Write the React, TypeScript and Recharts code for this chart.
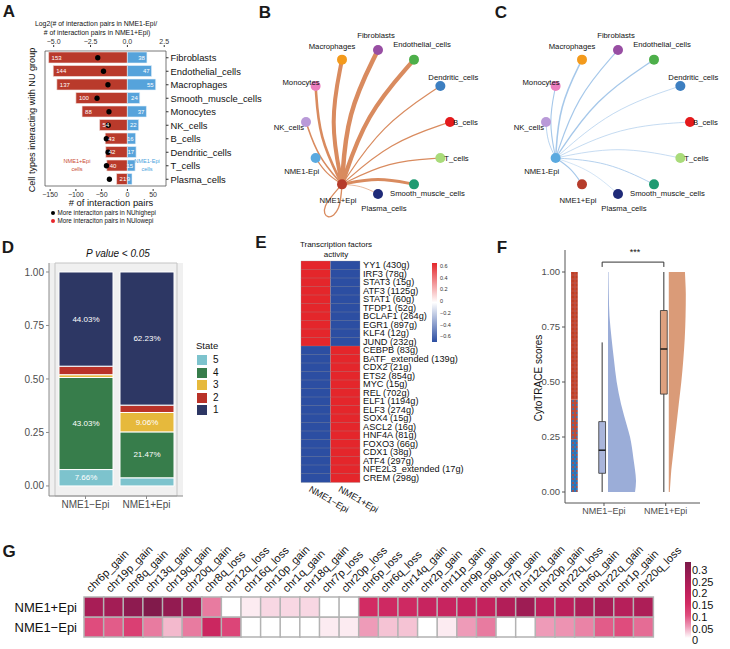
import React from "react";
import {
  Area,
  Bar,
  BarChart,
  CartesianGrid,
  Cell,
  ComposedChart,
  LabelList,
  ReferenceArea,
  ReferenceLine,
  Scatter,
  ScatterChart,
  XAxis,
  YAxis,
  ZAxis,
} from "recharts";

const FONT = "'Liberation Sans', Arial, Helvetica, sans-serif";

// ---------- A: interaction pairs per cell type
const cellTypes = [
  "Fibroblasts",
  "Endothelial_cells",
  "Macrophages",
  "Smooth_muscle_cells",
  "Monocytes",
  "NK_cells",
  "B_cells",
  "Dendritic_cells",
  "T_cells",
  "Plasma_cells",
];
const pairsNme1Plus = [153, 144, 137, 100, 88, 54, 43, 42, 40, 21];
const pairsNme1Minus = [38, 47, 55, 24, 37, 22, 16, 17, 15, 9];
const log2Ratio = [-2.01, -1.62, -1.32, -2.06, -1.25, -1.3, -1.43, -1.31, -1.42, -1.22];

// ---------- B / C: circle networks
const netNodes = [
  "B_cells",
  "Dendritic_cells",
  "Endothelial_cells",
  "Fibroblasts",
  "Macrophages",
  "Monocytes",
  "NK_cells",
  "NME1-Epi",
  "NME1+Epi",
  "Plasma_cells",
  "Smooth_muscle_cells",
  "T_cells",
];
const crossPairsB = 40; // NME1+Epi -> NME1-Epi
const selfPairsB = 45; // NME1+Epi -> NME1+Epi
const crossPairsC = 40; // NME1-Epi -> NME1+Epi

// ---------- D: state composition (%)
const stateNames = ["5", "4", "3", "2", "1"];
const stateNme1Minus = [7.66, 43.03, 1.3, 3.98, 44.03];
const stateNme1Plus = [3.8, 21.47, 9.06, 3.44, 62.23];
const stateGroups = ["NME1−Epi", "NME1+Epi"];

// ---------- E: TF activity
const tfNames = [
  "YY1 (430g)",
  "IRF3 (78g)",
  "STAT3 (15g)",
  "ATF3 (1125g)",
  "STAT1 (60g)",
  "TFDP1 (52g)",
  "BCLAF1 (264g)",
  "EGR1 (897g)",
  "KLF4 (12g)",
  "JUND (232g)",
  "CEBPB (83g)",
  "BATF_extended (139g)",
  "CDX2 (21g)",
  "ETS2 (854g)",
  "MYC (15g)",
  "REL (702g)",
  "ELF1 (1194g)",
  "ELF3 (274g)",
  "SOX4 (15g)",
  "ASCL2 (16g)",
  "HNF4A (81g)",
  "FOXO3 (66g)",
  "CDX1 (38g)",
  "ATF4 (297g)",
  "NFE2L3_extended (17g)",
  "CREM (298g)",
];
const tfNme1Minus = [
  0.68, 0.68, 0.68, 0.68, 0.68, 0.68, 0.68, 0.68, 0.68, 0.68, -0.68, -0.68, -0.68, -0.68, -0.68, -0.68, -0.68,
  -0.68, -0.68, -0.68, -0.68, -0.68, -0.68, -0.68, -0.68, -0.68,
];
const tfNme1Plus = [
  -0.68, -0.68, -0.68, -0.68, -0.68, -0.68, -0.68, -0.68, -0.68, -0.68, 0.68, 0.68, 0.68, 0.68, 0.68, 0.68, 0.68,
  0.68, 0.68, 0.68, 0.68, 0.68, 0.68, 0.68, 0.68, 0.68,
];

// ---------- F: CytoTRACE raincloud
const violinY = [0, 0.05, 0.1, 0.15, 0.2, 0.25, 0.3, 0.4, 0.5, 0.6, 0.7, 0.8, 0.9, 0.95, 1.0];
const violinNme1Minus = [0.438, 0.454, 0.438, 0.413, 0.389, 0.357, 0.308, 0.211, 0.141, 0.097, 0.057, 0.024, 0.013, 0.01, 0.008];
const violinNme1Plus = [0.016, 0.028, 0.041, 0.061, 0.081, 0.101, 0.122, 0.162, 0.203, 0.235, 0.259, 0.272, 0.276, 0.27, 0.262];
const boxGroups = ["NME1−Epi", "NME1+Epi"];
const boxLow = [0, 0];
const boxQ1 = [0.085, 0.445];
const boxMedian = [0.19, 0.65];
const boxQ3 = [0.32, 0.825];
const boxHigh = [0.68, 1.0];

// ---------- G: CNV events
const cnvEvents = [
  "chr6p_gain", "chr19p_gain", "chr8q_gain", "chr13q_gain", "chr19q_gain", "chr20q_gain", "chr8q_loss",
  "chr12q_loss", "chr16q_loss", "chr10p_gain", "chr1q_gain", "chr18q_gain", "chr7p_loss", "chr20p_loss",
  "chr6p_loss", "chr6q_loss", "chr14q_gain", "chr2p_gain", "chr11p_gain", "chr9p_gain", "chr9q_gain",
  "chr7p_gain", "chr12q_gain", "chr20p_gain", "chr22q_loss", "chr6q_gain", "chr22q_gain", "chr1p_gain",
  "chr20q_loss",
];
const cnvNme1Plus = [
  0.25, 0.26, 0.3, 0.32, 0.29, 0.27, 0.07, 0, 0.01, 0.02, 0.02, 0.02, 0, 0, 0.15, 0.16, 0.16, 0.18, 0.18,
  0.19, 0.19, 0.23, 0.27, 0.21, 0.21, 0.24, 0.25, 0.22, 0.24,
];
const cnvNme1Minus = [
  0.1, 0.09, 0.12, 0.07, 0.035, 0.07, 0.17, 0.11, 0, 0, 0, 0, 0.01, 0.01, 0.05, 0.03, 0.03, 0, 0.01, 0.05,
  0.07, 0, 0, 0.05, 0.055, 0.065, 0.09, 0.1, 0.08,
];

// ---------- styles
const RED_A = "#b93a2b";
const BLUE_A = "#56a3db";
const NODE_COLORS: Record<string, string> = {
  B_cells: "#e41a1c",
  Dendritic_cells: "#3d7fc1",
  Endothelial_cells: "#4daf4a",
  Fibroblasts: "#984ea3",
  Macrophages: "#f39a1c",
  Monocytes: "#ec7fbf",
  NK_cells: "#b99ad8",
  "NME1-Epi": "#5aa9df",
  "NME1+Epi": "#b63c2b",
  Plasma_cells: "#1f2a78",
  Smooth_muscle_cells: "#1f9b72",
  T_cells: "#a9db7a",
};
const NODE_LABEL: Record<string, { dx: number; dy: number; a: "start" | "middle" | "end" }> = {
  B_cells: { dx: 3, dy: 0, a: "start" },
  Dendritic_cells: { dx: -12, dy: -9, a: "start" },
  Endothelial_cells: { dx: 8, dy: -15, a: "middle" },
  Fibroblasts: { dx: -2, dy: -15, a: "middle" },
  Macrophages: { dx: -10, dy: -13, a: "middle" },
  Monocytes: { dx: 4, dy: -4, a: "end" },
  NK_cells: { dx: -2, dy: 5, a: "end" },
  "NME1-Epi": { dx: -14, dy: 13, a: "middle" },
  "NME1+Epi": { dx: -4, dy: 16, a: "middle" },
  Plasma_cells: { dx: 6, dy: 14, a: "middle" },
  Smooth_muscle_cells: { dx: -24, dy: 9, a: "start" },
  T_cells: { dx: 4, dy: 0, a: "start" },
};
const STATE_COLORS = ["#7dc3cd", "#377d4b", "#e6b93c", "#b93228", "#2d3764"];
const VIOLIN_BASE = [1.065, 2.05];
const BOX_SHIFT = -0.03;
const BOX_HALF = 0.055;

function hexRgb(h: string) {
  const n = parseInt(h.slice(1), 16);
  return [(n >> 16) & 255, (n >> 8) & 255, n & 255];
}
function ramp(stops: [number, string][], v: number) {
  if (v <= stops[0][0]) return stops[0][1];
  for (let i = 1; i < stops.length; i++) {
    if (v <= stops[i][0]) {
      const [v0, c0] = stops[i - 1];
      const [v1, c1] = stops[i];
      const t = (v - v0) / (v1 - v0);
      const a = hexRgb(c0);
      const b = hexRgb(c1);
      return `rgb(${a.map((x, k) => Math.round(x + (b[k] - x) * t)).join(",")})`;
    }
  }
  return stops[stops.length - 1][1];
}
const TF_STOPS: [number, string][] = [
  [-0.6, "#2c4ea2"],
  [0, "#ffffff"],
  [0.6, "#e4262b"],
];
const CNV_STOPS: [number, string][] = [
  [0, "#ffffff"],
  [0.05, "#ee9bb8"],
  [0.1, "#df4c7d"],
  [0.15, "#d22b63"],
  [0.2, "#c0205c"],
  [0.25, "#a81d56"],
  [0.3, "#8e1b50"],
  [0.33, "#7a1a48"],
];

function Txt({ x, y, size, children, anchor = "middle", color = "#111", weight = 400, italic = false, rotate = 0 }: any) {
  const tx = anchor === "middle" ? "-50%" : anchor === "end" ? "-100%" : "0%";
  return (
    <div
      style={{
        position: "absolute",
        left: x,
        top: y,
        transform: `translate(${tx}, -50%) rotate(${rotate}deg)`,
        fontSize: size,
        color,
        fontWeight: weight,
        fontStyle: italic ? "italic" : "normal",
        whiteSpace: "nowrap",
        lineHeight: 1,
      }}
    >
      {children}
    </div>
  );
}

// plain, non-wrapping tick text
const plainTick = (size: number, anchor: "start" | "end", fmt?: (v: any) => string) => (p: any) => (
  <text x={p.x} y={p.y} dy="0.35em" textAnchor={anchor} fontSize={size} fill="#111">
    {fmt ? fmt(p.payload.value) : p.payload.value}
  </text>
);

// ---------- Panel A
const aRows = cellTypes.map((c, i) => ({
  cell: c,
  plus: -pairsNme1Plus[i],
  minus: pairsNme1Minus[i],
  ratio: log2Ratio[i],
}));

const barNumber = (side: "left" | "right") => (p: any) => {
  const x = Number(p.x);
  const w = Number(p.width);
  const y = Number(p.y);
  const h = Number(p.height);
  const lo = Math.min(x, x + w);
  const hi = Math.max(x, x + w);
  return (
    <text
      x={side === "left" ? lo + 3 : hi - 2}
      y={y + h / 2}
      textAnchor={side === "left" ? "start" : "end"}
      dominantBaseline="central"
      fontSize={6}
      fill="#fff"
    >
      {Math.abs(Number(p.value))}
    </text>
  );
};

function PanelA() {
  const minus = (v: number) => String(v).replace("-", "−");
  return (
    <div style={{ position: "absolute", left: 0, top: 0 }}>
      <ComposedChart
        width={262}
        height={240}
        data={aRows}
        layout="vertical"
        stackOffset="sign"
        margin={{ top: 33, right: 2, bottom: 37, left: 45 }}
      >
        <XAxis
          xAxisId="bottom"
          type="number"
          orientation="bottom"
          domain={[-160, 75]}
          ticks={[-150, -100, -50, 0, 50]}
          tickFormatter={minus}
          height={14}
          tickSize={2}
          tickMargin={1}
          axisLine={false}
          stroke="#333"
          tick={{ fontSize: 7, fill: "#333" }}
          allowDataOverflow
        />
        <XAxis
          xAxisId="top"
          type="number"
          orientation="top"
          dataKey="ratio"
          domain={[-5.59, 2.62]}
          ticks={[-5, -2.5, 0, 2.5]}
          tickFormatter={(v: number) => v.toFixed(1).replace("-", "−")}
          height={14}
          tickSize={2}
          tickMargin={1}
          axisLine={false}
          stroke="#333"
          tick={{ fontSize: 7, fill: "#333" }}
          allowDataOverflow
        />
        <YAxis
          type="category"
          dataKey="cell"
          orientation="right"
          width={94}
          axisLine={false}
          tickSize={2.5}
          tickMargin={2}
          stroke="#333"
          interval={0}
          padding={{ top: 4, bottom: 3 }}
          tick={plainTick(9.4, "start")}
        />
        <ZAxis range={[22, 22]} />
        <ReferenceArea xAxisId="bottom" x1={-160} x2={75} fill="none" stroke="#555" strokeWidth={0.8} />
        <Bar xAxisId="bottom" dataKey="plus" stackId="a" fill={RED_A} stroke="#f4e6e2" strokeWidth={0.6} barSize={11} isAnimationActive={false}>
          <LabelList dataKey="plus" content={barNumber("left")} />
        </Bar>
        <Bar xAxisId="bottom" dataKey="minus" stackId="a" fill={BLUE_A} stroke="#e6f1fa" strokeWidth={0.6} barSize={11} isAnimationActive={false}>
          <LabelList dataKey="minus" content={barNumber("right")} />
        </Bar>
        <Scatter xAxisId="top" dataKey="ratio" fill="#000" isAnimationActive={false} />
      </ComposedChart>
    </div>
  );
}

// ---------- Panels B / C
const R_NET = 110 / 72;
function nodePos(name: string) {
  const i = netNodes.indexOf(name);
  const t = (i * Math.PI) / 6;
  return { x: Math.cos(t), y: Math.sin(t) };
}
function edgePoints(from: string, to: string, bend: number) {
  const a = nodePos(from);
  const b = nodePos(to);
  const dx = b.x - a.x;
  const dy = b.y - a.y;
  return [a, { x: (a.x + b.x) / 2 - dy * bend, y: (a.y + b.y) / 2 + dx * bend }, b];
}
function loopPoints(from: string) {
  const a = nodePos(from);
  const offs = [
    [0, 0],
    [-0.05, -0.33],
    [-0.19, -0.45],
    [-0.23, -0.3],
    [0, 0],
  ];
  return offs.map(([ox, oy]) => ({ x: a.x + ox, y: a.y + oy }));
}
const noPoint = () => <g />;
const NodeShape = (p: any) => {
  const name = p.payload.name as string;
  const st = NODE_LABEL[name];
  return (
    <g>
      <circle cx={p.cx} cy={p.cy} r={5} fill={NODE_COLORS[name]} />
      <text x={p.cx + st.dx} y={p.cy + st.dy} textAnchor={st.a} dominantBaseline="central" fontSize={7.7} fill="#111">
        {name}
      </text>
    </g>
  );
};

function Network({ left, hub, other, counts, crossCount, selfCount, color, widthOf }: any) {
  const nodes = netNodes.map((n) => ({ name: n, ...nodePos(n) }));
  const edges = cellTypes.map((c, i) => ({ to: c, n: counts[i] }));
  edges.push({ to: other, n: crossCount });
  return (
    <div style={{ position: "absolute", left, top: 12 }}>
      <ScatterChart width={220} height={220} margin={{ top: 0, right: 0, bottom: 0, left: 0 }}>
        <XAxis type="number" dataKey="x" domain={[-R_NET, R_NET]} hide allowDataOverflow />
        <YAxis type="number" dataKey="y" domain={[-R_NET, R_NET]} hide allowDataOverflow />
        {selfCount ? (
          <Scatter
            data={loopPoints(hub)}
            line={{ stroke: color, strokeWidth: widthOf(selfCount) }}
            lineJointType="natural"
            shape={noPoint}
            isAnimationActive={false}
          />
        ) : null}
        {edges.map((e) => (
          <Scatter
            key={e.to}
            data={edgePoints(hub, e.to, 0.1)}
            line={{ stroke: color, strokeWidth: widthOf(e.n), strokeLinecap: "round" }}
            lineJointType="basis"
            shape={noPoint}
            isAnimationActive={false}
          />
        ))}
        <Scatter data={nodes} shape={NodeShape} isAnimationActive={false} />
      </ScatterChart>
    </div>
  );
}

// ---------- Panel D
const dRows = stateGroups.map((g, gi) => {
  const vals = gi === 0 ? stateNme1Minus : stateNme1Plus;
  const row: any = { group: g };
  stateNames.forEach((s, i) => (row["s" + s] = vals[i]));
  return row;
});
const pctLabel = (p: any) => {
  const v = Number(p.value);
  if (v < 5) return null;
  return (
    <text x={p.x + p.width / 2} y={p.y + p.height / 2} textAnchor="middle" dominantBaseline="central" fontSize={8} fill="#fff">
      {v.toFixed(2)}%
    </text>
  );
};

function PanelD() {
  return (
    <div style={{ position: "absolute", left: 0, top: 240 }}>
      <BarChart width={262} height={285} data={dRows} margin={{ top: 23, right: 79, bottom: 9, left: 9 }}>
        <CartesianGrid fill="#f0f0f0" horizontal={false} vertical={false} />
        <XAxis
          dataKey="group"
          height={20}
          padding={{ left: 6, right: 6 }}
          tickSize={3}
          stroke="#8a8a8a"
          tick={{ fontSize: 10, fill: "#4d4d4d" }}
        />
        <YAxis
          type="number"
          domain={[-4.7, 104.2]}
          ticks={[0, 25, 50, 75, 100]}
          tickFormatter={(v: number) => (v / 100).toFixed(2)}
          width={40}
          tickSize={3}
          stroke="#8a8a8a"
          tick={{ fontSize: 10, fill: "#4d4d4d" }}
          allowDataOverflow
        />
        <ReferenceArea y1={-4.7} y2={104.2} fill="none" stroke="#c4c4c4" />
        {stateNames.map((s, i) => (
          <Bar key={s} dataKey={"s" + s} stackId="st" fill={STATE_COLORS[i]} stroke="#fff" strokeWidth={1} barSize={54} isAnimationActive={false}>
            <LabelList dataKey={"s" + s} content={pctLabel} />
          </Bar>
        ))}
      </BarChart>
    </div>
  );
}

// ---------- Panel E
const eRows = tfNames.map((t, i) => ({ tf: t, minus: tfNme1Minus[i], plus: tfNme1Plus[i], u1: 1, u2: 1 }));
const TfGroupTick = (p: any) => (
  <text x={p.x - 4} y={p.y} transform={`rotate(30 ${p.x - 4} ${p.y})`} dy="0.75em" fontSize={9.2} fill="#111">
    {p.payload.value < 1 ? "NME1−Epi" : "NME1+Epi"}
  </text>
);

function PanelE() {
  return (
    <div style={{ position: "absolute", left: 290, top: 250 }}>
      <BarChart width={200} height={275} data={eRows} layout="vertical" barCategoryGap={0} margin={{ top: 11, right: 5, bottom: 0, left: 11 }}>
        <XAxis type="number" domain={[0, 2]} ticks={[0.5, 1.5]} height={43} axisLine={false} tickLine={false} tickSize={0} tickMargin={3} tick={<TfGroupTick />} />
        <YAxis
          type="category"
          dataKey="tf"
          orientation="right"
          width={125}
          axisLine={false}
          tickLine={false}
          tickSize={0}
          tickMargin={3}
          interval={0}
          tick={plainTick(9.2, "start")}
        />
        <Bar dataKey="u1" stackId="h" stroke="#9a9a9a" strokeWidth={0.3} isAnimationActive={false}>
          {eRows.map((r) => (
            <Cell key={r.tf} fill={ramp(TF_STOPS, r.minus)} />
          ))}
        </Bar>
        <Bar dataKey="u2" stackId="h" stroke="#9a9a9a" strokeWidth={0.3} isAnimationActive={false}>
          {eRows.map((r) => (
            <Cell key={r.tf} fill={ramp(TF_STOPS, r.plus)} />
          ))}
        </Bar>
      </BarChart>
    </div>
  );
}

// ---------- Panel F
const violinRows = violinY.map((y, i) => ({ y, wMinus: violinNme1Minus[i], wPlus: violinNme1Plus[i] }));

function PanelF() {
  const boxes = boxGroups.map((g, i) => {
    const cx = i + 1 + BOX_SHIFT;
    const stroke = "#333";
    return (
      <React.Fragment key={g}>
        <ReferenceLine segment={[{ x: cx, y: boxLow[i] }, { x: cx, y: boxQ1[i] }]} stroke={stroke} strokeWidth={1} />
        <ReferenceLine segment={[{ x: cx, y: boxQ3[i] }, { x: cx, y: boxHigh[i] }]} stroke={stroke} strokeWidth={1} />
        <ReferenceArea
          x1={cx - BOX_HALF}
          x2={cx + BOX_HALF}
          y1={boxQ1[i]}
          y2={boxQ3[i]}
          fill={i === 0 ? "#a9b5db" : "#dea17f"}
          fillOpacity={1}
          stroke={stroke}
          strokeWidth={0.8}
        />
        <ReferenceLine segment={[{ x: cx - BOX_HALF, y: boxMedian[i] }, { x: cx + BOX_HALF, y: boxMedian[i] }]} stroke="#111" strokeWidth={1.4} />
      </React.Fragment>
    );
  });
  const b1 = 1 + BOX_SHIFT;
  const b2 = 2 + BOX_SHIFT;
  return (
    <div style={{ position: "absolute", left: 500, top: 240 }}>
      <ComposedChart width={230} height={290} data={violinRows} layout="vertical" margin={{ top: 10, right: 30, bottom: 7, left: 25 }}>
        <defs>
          <pattern id="jitRed" width="4" height="4" patternUnits="userSpaceOnUse">
            <rect width="4" height="4" fill="#c7482f" />
            <circle cx="1" cy="1" r="0.9" fill="#b23a25" />
            <circle cx="3" cy="3" r="0.5" fill="#6c7fb8" />
          </pattern>
          <pattern id="jitMix" width="4" height="4" patternUnits="userSpaceOnUse">
            <rect width="4" height="4" fill="#b94c3a" />
            <circle cx="1" cy="1" r="1" fill="#2f76b8" />
            <circle cx="3" cy="3" r="0.8" fill="#c4452e" />
          </pattern>
          <pattern id="jitBlue" width="4" height="4" patternUnits="userSpaceOnUse">
            <rect width="4" height="4" fill="#2f78bb" />
            <circle cx="1" cy="3" r="0.9" fill="#c4452e" />
            <circle cx="3" cy="1" r="0.8" fill="#2a6aa8" />
          </pattern>
        </defs>
        <XAxis
          type="number"
          domain={[0.368, 2.556]}
          ticks={[1, 2]}
          tickFormatter={(v: number) => boxGroups[v - 1]}
          height={20}
          tickSize={3}
          stroke="#555"
          tick={{ fontSize: 9, fill: "#4d4d4d" }}
          allowDataOverflow
        />
        <YAxis
          type="number"
          dataKey="y"
          reversed
          domain={[-0.05, 1.1]}
          ticks={[0, 0.25, 0.5, 0.75, 1]}
          tickFormatter={(v: number) => v.toFixed(2)}
          width={40}
          tickSize={3}
          stroke="#555"
          tick={{ fontSize: 9.5, fill: "#4d4d4d" }}
          allowDataOverflow
        />
        <ReferenceArea x1={0.465} x2={0.575} y1={0.42} y2={1} fill="url(#jitRed)" fillOpacity={1} />
        <ReferenceArea x1={0.465} x2={0.575} y1={0.24} y2={0.42} fill="url(#jitMix)" fillOpacity={1} />
        <ReferenceArea x1={0.465} x2={0.575} y1={0} y2={0.24} fill="url(#jitBlue)" fillOpacity={1} />
        <Area
          dataKey={(d: any) => [VIOLIN_BASE[0], VIOLIN_BASE[0] + d.wMinus]}
          type="monotone"
          stroke="none"
          fill="#9badd8"
          fillOpacity={1}
          isAnimationActive={false}
        />
        <Area
          dataKey={(d: any) => [VIOLIN_BASE[1], VIOLIN_BASE[1] + d.wPlus]}
          type="monotone"
          stroke="none"
          fill="#da9b78"
          fillOpacity={1}
          isAnimationActive={false}
        />
        {boxes}
        <ReferenceLine segment={[{ x: b1, y: 1.023 }, { x: b1, y: 1.045 }]} stroke="#333" />
        <ReferenceLine segment={[{ x: b1, y: 1.045 }, { x: b2, y: 1.045 }]} stroke="#333" />
        <ReferenceLine segment={[{ x: b2, y: 1.045 }, { x: b2, y: 1.023 }]} stroke="#333" />
      </ComposedChart>
    </div>
  );
}

// ---------- Panel G
const gRows = cnvEvents.map((e, i) => ({ event: e, plus: cnvNme1Plus[i], minus: cnvNme1Minus[i], u1: 1, u2: 1 }));
const CnvTick = (p: any) => (
  <text x={p.x - 3} y={p.y} transform={`rotate(-45 ${p.x - 3} ${p.y})`} fontSize={11} fill="#111">
    {p.payload.value}
  </text>
);

function PanelG() {
  return (
    <div style={{ position: "absolute", left: 0, top: 530 }}>
      <BarChart width={730} height={119} data={gRows} barCategoryGap={0} margin={{ top: 0, right: 77, bottom: 12, left: 4 }}>
        <XAxis dataKey="event" orientation="top" height={67} axisLine={false} tickLine={false} tickSize={0} tickMargin={4} interval={0} tick={<CnvTick />} />
        <YAxis
          type="number"
          domain={[0, 2]}
          ticks={[0.5, 1.5]}
          interval={0}
          width={80}
          axisLine={false}
          tickLine={false}
          tickSize={0}
          tickMargin={7}
          tick={plainTick(13, "end", (v: number) => (v > 1 ? "NME1+Epi" : "NME1−Epi"))}
        />
        <Bar dataKey="u1" stackId="g" stroke="#b3b3b3" strokeWidth={1.5} isAnimationActive={false}>
          {gRows.map((r) => (
            <Cell key={r.event} fill={ramp(CNV_STOPS, r.minus)} />
          ))}
        </Bar>
        <Bar dataKey="u2" stackId="g" stroke="#b3b3b3" strokeWidth={1.5} isAnimationActive={false}>
          {gRows.map((r) => (
            <Cell key={r.event} fill={ramp(CNV_STOPS, r.plus)} />
          ))}
        </Bar>
      </BarChart>
    </div>
  );
}

export default function App() {
  const letter = { size: 17, weight: 700, color: "#1a1a1a" };
  return (
    <div
      style={{
        position: "absolute",
        left: 0,
        top: 0,
        width: 730,
        height: 649,
        background: "#fff",
        fontFamily: FONT,
        color: "#111",
        overflow: "hidden",
      }}
    >
      <PanelA />
      <Network left={268} hub="NME1+Epi" other="NME1-Epi" counts={pairsNme1Plus} crossCount={crossPairsB} selfCount={selfPairsB} color="#d98b5f" widthOf={(n: number) => n / 34} />
      <Network left={508} hub="NME1-Epi" other="NME1+Epi" counts={pairsNme1Minus} crossCount={crossPairsC} selfCount={0} color="#a6c8ea" widthOf={(n: number) => 0.3 + n / 45} />
      <PanelD />
      <PanelE />
      <PanelF />
      <PanelG />

      {/* panel letters */}
      <Txt x={9} y={11} {...letter}>A</Txt>
      <Txt x={265} y={12} {...letter}>B</Txt>
      <Txt x={501} y={12} {...letter}>C</Txt>
      <Txt x={8} y={247} {...letter}>D</Txt>
      <Txt x={261} y={242} {...letter}>E</Txt>
      <Txt x={502} y={247} {...letter}>F</Txt>
      <Txt x={9} y={551} {...letter}>G</Txt>

      {/* A texts */}
      <Txt x={96} y={24.3} size={6.9}>Log2(# of interaction pairs in NME1-Epi/</Txt>
      <Txt x={97} y={33.3} size={6.9}># of interaction pairs in NME1+Epi)</Txt>
      <Txt x={111} y={203} size={9.4}># of interaction pairs</Txt>
      <Txt x={33} y={120} size={9.1} rotate={-90}>Cell types interacting with NU group</Txt>
      <Txt x={77} y={162} size={5.6} color="#c94a34">NME1+Epi</Txt>
      <Txt x={77} y={170} size={5.6} color="#c94a34">cells</Txt>
      <Txt x={147} y={162} size={5.6} color="#4aa3dd">NME1-Epi</Txt>
      <Txt x={147} y={170} size={5.6} color="#4aa3dd">cells</Txt>
      <div style={{ position: "absolute", left: 51, top: 211.3, width: 4, height: 4, borderRadius: 2, background: "#000" }} />
      <div style={{ position: "absolute", left: 51, top: 218.7, width: 4, height: 4, borderRadius: 2, background: "#e8262b" }} />
      <Txt x={57.5} y={213.3} size={6.3} anchor="start">More interaciton pairs in NUhighepi</Txt>
      <Txt x={57.5} y={220.7} size={6.3} anchor="start">More interaciton pairs in NUlowepi</Txt>

      {/* D texts */}
      <Txt x={118} y={254} size={10} italic>P value &lt; 0.05</Txt>
      <Txt x={196} y={346} size={9.5} anchor="start">State</Txt>
      {stateNames.map((s, i) => (
        <React.Fragment key={s}>
          <div style={{ position: "absolute", left: 197, top: 355 + i * 12.6, width: 10, height: 10, background: STATE_COLORS[i] }} />
          <Txt x={213} y={360 + i * 12.6} size={10} anchor="start">{s}</Txt>
        </React.Fragment>
      ))}

      {/* E texts */}
      <Txt x={336} y={245} size={8}>Transcription factors</Txt>
      <Txt x={336} y={255} size={8}>activity</Txt>
      <div
        style={{
          position: "absolute",
          left: 432,
          top: 263,
          width: 5,
          height: 79,
          background: "linear-gradient(to bottom, #e4262b 0%, #ffffff 50%, #2c4ea2 100%)",
        }}
      />
      {["0.6", "0.4", "0.2", "0", "−0.2", "−0.4", "−0.6"].map((t, i) => (
        <Txt key={t} x={440} y={267 + i * 11.7} size={5.5} anchor="start" color="#333">{t}</Txt>
      ))}

      {/* F texts */}
      <Txt x={635} y={252} size={9}>***</Txt>
      <Txt x={539} y={378} size={10} rotate={-90}>CytoTRACE scores</Txt>

      {/* G colour bar */}
      <div
        style={{
          position: "absolute",
          left: 685,
          top: 562,
          width: 6,
          height: 76,
          background: "linear-gradient(to top, #ffffff 0%, #ee9bb8 15%, #df4c7d 30%, #d22b63 45%, #c0205c 60%, #a81d56 75%, #8e1b50 90%, #7a1a48 100%)",
        }}
      />
      {["0.3", "0.25", "0.2", "0.15", "0.1", "0.05", "0"].map((t, i) => (
        <Txt key={t} x={692} y={570 + i * 11.7} size={11} anchor="start">{t}</Txt>
      ))}
    </div>
  );
}
